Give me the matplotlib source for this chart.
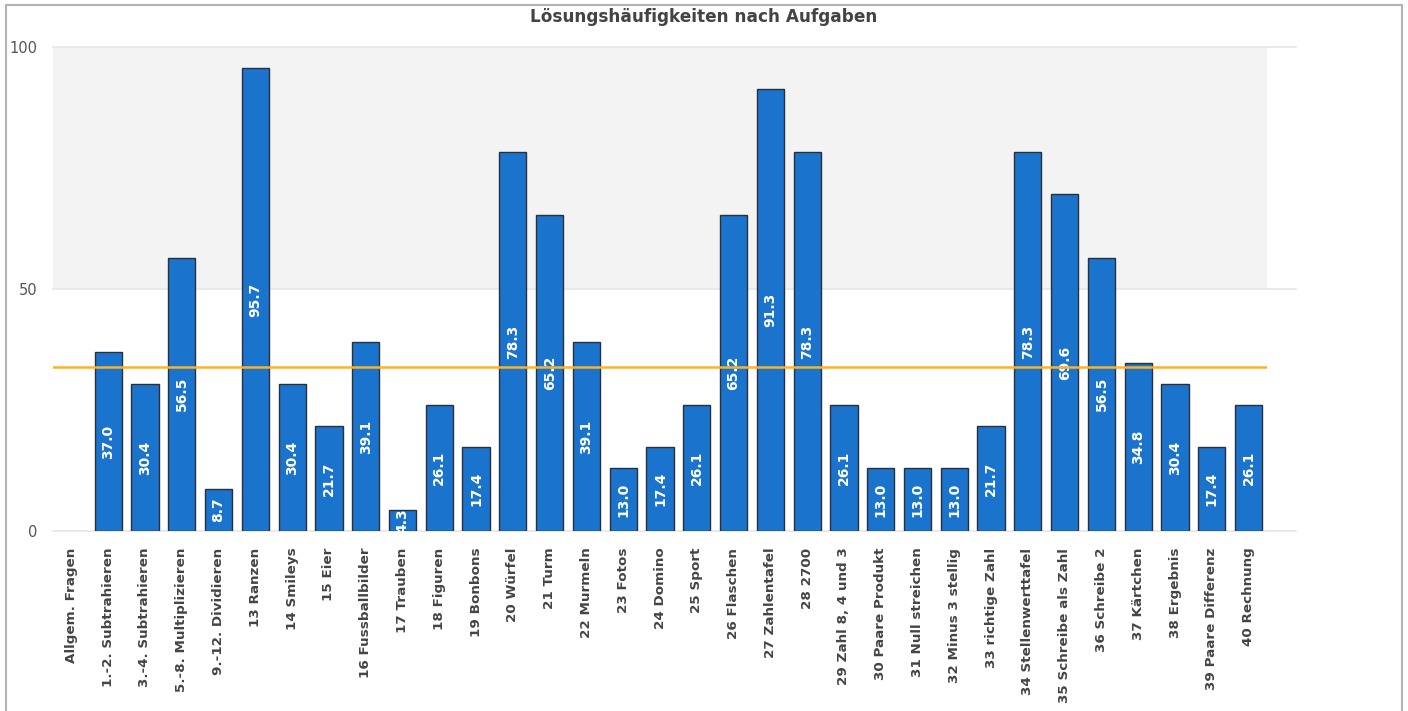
import numpy as np
import matplotlib.pyplot as plt
import matplotlib.transforms as mtransforms
from matplotlib.patches import Rectangle

plt.rcParams['font.family'] = ['DejaVu Sans']

# ------------------ DATA ------------------
aufgaben = [
    "Allgem. Fragen", "1.-2. Subtrahieren", "3.-4. Subtrahieren",
    "5.-8. Multiplizieren", "9.-12. Dividieren", "13 Ranzen", "14 Smileys",
    "15 Eier", "16 Fussballbilder", "17 Trauben", "18 Figuren", "19 Bonbons",
    "20 Würfel", "21 Turm", "22 Murmeln", "23 Fotos", "24 Domino", "25 Sport",
    "26 Flaschen", "27 Zahlentafel", "28 2700", "29 Zahl 8, 4 und 3",
    "30 Paare Produkt", "31 Null streichen", "32 Minus 3 stellig",
    "33 richtige Zahl", "34 Stellenwerttafel", "35 Schreibe als Zahl",
    "36 Schreibe 2", "37 Kärtchen", "38 Ergebnis", "39 Paare Differenz",
    "40 Rechnung",
]
haeufigkeit = [
    np.nan, 37.0, 30.4, 56.5, 8.7, 95.7, 30.4, 21.7, 39.1, 4.3, 26.1, 17.4,
    78.3, 65.2, 39.1, 13.0, 17.4, 26.1, 65.2, 91.3, 78.3, 26.1, 13.0, 13.0,
    13.0, 21.7, 78.3, 69.6, 56.5, 34.8, 30.4, 17.4, 26.1,
]
durchschnitt = 33.9
y_ticks = [0, 50, 100]

# ------------------ PLOT ------------------
W, H = 1408, 711
fig = plt.figure(figsize=(W / 100, H / 100), dpi=100)
ax = fig.add_axes([53 / W, 1 - 531 / H, (1267 - 53) / W, (531 - 47) / H])

x = np.arange(len(aufgaben))
ax.set_xlim(-0.5, len(aufgaben) - 0.5)
ax.set_ylim(0, 100)

# light band 50..100 and grid lines (extend a bit past the plot area)
ax.axhspan(50, 100, color='#f3f3f3', zorder=0, lw=0)
trans = mtransforms.blended_transform_factory(ax.transAxes, ax.transData)
for yt in y_ticks:
    ax.plot([0, 1.024], [yt, yt], transform=trans, color='#e6e6e6',
            lw=1.2, clip_on=False, zorder=0.5)

vals = np.array(haeufigkeit)
has = ~np.isnan(vals)
bars = ax.bar(x[has], vals[has], width=0.74, color='#1a73cc',
              edgecolor='#2a2f3a', linewidth=1.0, zorder=2)

for b, v in zip(bars, vals[has]):
    t = ax.text(b.get_x() + b.get_width() / 2, v / 2, f"{v:.1f}",
                rotation=90, ha='center', va='center', color='white',
                fontsize=10, fontweight='bold', zorder=4)
    t.set_clip_path(b)

ax.axhline(durchschnitt, color='#ffb21e', lw=1.8, zorder=5)

for s in ax.spines.values():
    s.set_visible(False)
ax.set_yticks(y_ticks)
ax.set_yticklabels([str(v) for v in y_ticks], color='#555555', fontsize=10.5)
ax.tick_params(axis='y', length=0, pad=11)
ax.set_xticks(x)
ax.set_xticklabels(aufgaben, rotation=90, fontsize=9.7, fontweight='bold',
                   color='#444444')
ax.tick_params(axis='x', length=0, pad=12)

fig.text(0.5, 1 - 17 / H, "Lösungshäufigkeiten nach Aufgaben", ha='center',
         va='center', fontsize=12.2, fontweight='bold', color='#444444')

# outer frame
fig.patches.append(Rectangle((6 / W, -0.01), (1402 - 6) / W, 1 - 5 / H + 0.01,
                             transform=fig.transFigure, fill=False,
                             edgecolor='#b3b3b3', lw=1.5))

plt.savefig('out.png', dpi=100)
